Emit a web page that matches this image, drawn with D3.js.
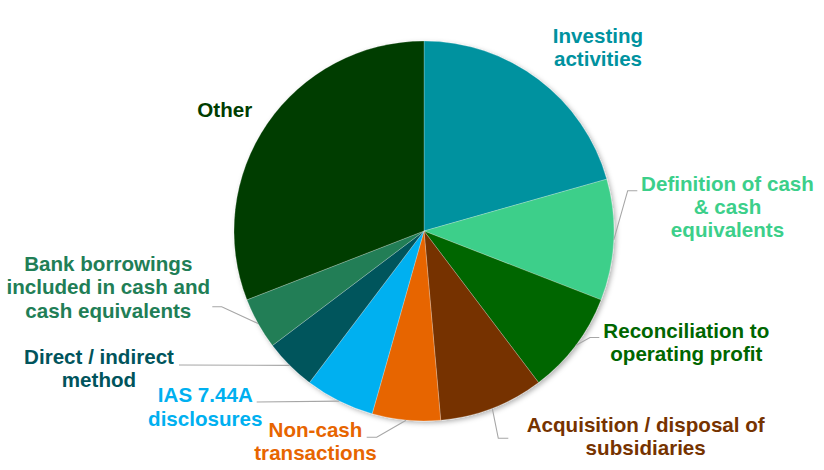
<!DOCTYPE html>
<html><head><meta charset="utf-8">
<script src="https://cdn.jsdelivr.net/npm/d3@7"></script>
<style>
body{margin:0;background:#fff}
text{font-family:"Liberation Sans",Arial,sans-serif;font-weight:bold}
</style>
</head><body>
<svg id="c" width="824" height="470"></svg>
<script>
// ---- data ----
const categories = [
  "Investing activities",
  "Definition of cash & cash equivalents",
  "Reconciliation to operating profit",
  "Acquisition / disposal of subsidiaries",
  "Non-cash transactions",
  "IAS 7.44A disclosures",
  "Direct / indirect method",
  "Bank borrowings included in cash and cash equivalents",
  "Other"
];
const values = [20.6, 10.3, 8.8, 8.9, 5.8, 5.9, 4.4, 4.4, 30.9];
const labelLines = [
  ["Investing", "activities"],
  ["Definition of cash", "& cash", "equivalents"],
  ["Reconciliation to", "operating profit"],
  ["Acquisition / disposal of", "subsidiaries"],
  ["Non-cash", "transactions"],
  ["IAS 7.44A", "disclosures"],
  ["Direct / indirect", "method"],
  ["Bank borrowings", "included in cash and", "cash equivalents"],
  ["Other"]
];

// ---- styling / layout ----
const colors = ["#00929F", "#3CCF8A", "#006600", "#763300", "#E76500", "#00B0F0", "#00545C", "#217E56", "#003D00"];
const labelLayout = [
  {x: 598,   y: 43},
  {x: 727.5, y: 190.5, path: [[627.7, 190.7], [637.3, 190.7]]},
  {x: 686.3, y: 338,   path: [[590, 337.5], [599.3, 337.5]]},
  {x: 645.7, y: 432,   path: [[498.3, 438.3], [508.3, 438.3]]},
  {x: 315.5, y: 436.7, path: [[376.7, 437.3], [366.7, 437.3]]},
  {x: 205.3, y: 402.3, path: [[256.7, 402]]},
  {x: 99,    y: 364,   path: [[179, 365]]},
  {x: 108.3, y: 270.7, path: [[221.7, 306.7], [212.3, 306.7]]},
  {x: 224.8, y: 116.7}
];
const cx = 424, cy = 231, R = 190, lineH = 23.4, fontSize = 20.6;

const svg = d3.select("#c");
const defs = svg.append("defs");
const f = defs.append("filter").attr("id", "sh").attr("x", "-10%").attr("y", "-10%").attr("width", "120%").attr("height", "120%");
f.append("feDropShadow").attr("dx", 2).attr("dy", 2).attr("stdDeviation", 2.5).attr("flood-color", "#000").attr("flood-opacity", 0.3);

const pie = d3.pie().sort(null).value(d => d)(values);
const arc = d3.arc().innerRadius(0).outerRadius(R);

const g = svg.append("g").attr("transform", `translate(${cx},${cy})`);
g.append("g").attr("filter", "url(#sh)")
  .selectAll("path").data(pie).join("path")
  .attr("d", arc)
  .attr("fill", (d, i) => colors[i])
  .attr("stroke", "#fff").attr("stroke-width", 0.4).attr("stroke-opacity", 0.6);

// leader lines
pie.forEach((d, i) => {
  const L = labelLayout[i];
  if (!L.path) return;
  const a = (d.startAngle + d.endAngle) / 2;
  const start = [cx + R * Math.sin(a), cy - R * Math.cos(a)];
  svg.append("path")
    .attr("d", d3.line()([start, ...L.path]))
    .attr("fill", "none").attr("stroke", "#A6A6A6").attr("stroke-width", 1.1);
});

// labels
labelLines.forEach((lines, i) => {
  const L = labelLayout[i];
  const t = svg.append("text")
    .attr("x", L.x).attr("y", L.y)
    .attr("text-anchor", "middle")
    .attr("font-size", fontSize)
    .attr("fill", colors[i]);
  lines.forEach((s, j) => {
    t.append("tspan").attr("x", L.x).attr("y", L.y + j * lineH).text(s);
  });
});
</script>
</body></html>
